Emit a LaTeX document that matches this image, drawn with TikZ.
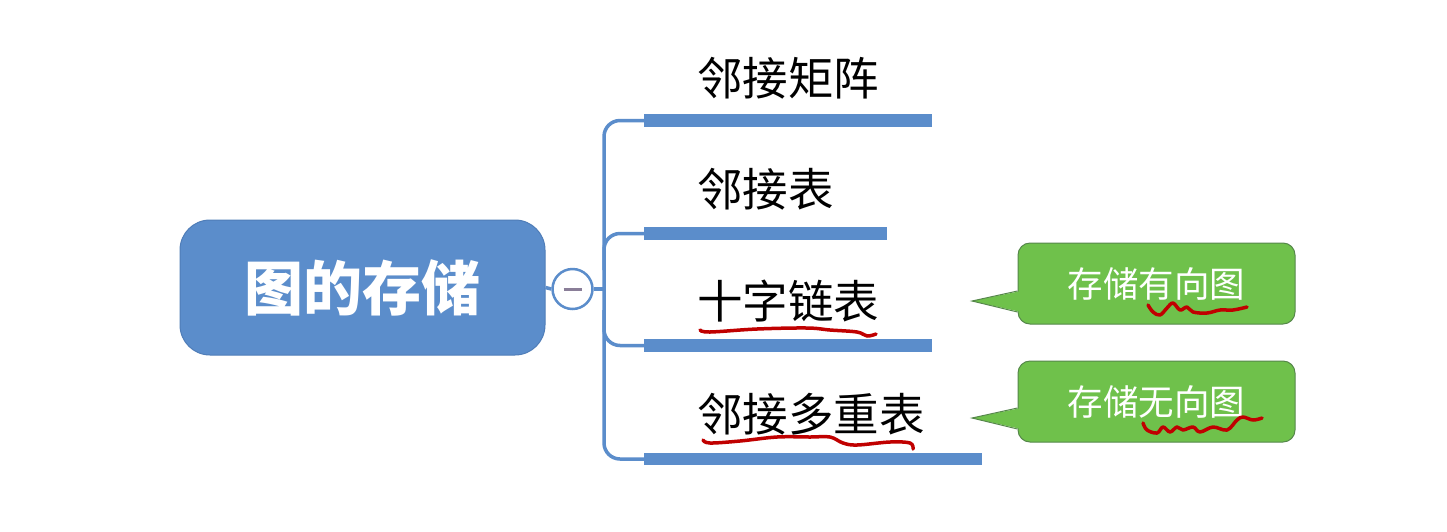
\documentclass[tikz,border=0pt]{standalone}
\usepackage{fontspec}
\newfontfamily\cjk{Noto Sans CJK SC}
\definecolor{mblue}{HTML}{5B8DCB}
\definecolor{mblueb}{HTML}{4F7DB8}
\definecolor{cgreen}{HTML}{6FC14B}
\definecolor{cgreenb}{HTML}{55874A}
\definecolor{ink}{HTML}{C00000}
\definecolor{minus}{HTML}{8A7E98}
\tikzset{
  rootbox/.style={fill=mblue, draw=mblueb, line width=1pt, rounded corners=30pt,
    minimum width=365pt, minimum height=135pt, inner sep=0pt, text=white,
    font=\cjk\bfseries\fontsize{59}{70}\selectfont},
  collapse/.style={circle, draw=mblue, line width=2.5pt, fill=white, minimum size=40pt, inner sep=0pt},
  barbox/.style={fill=mblue, minimum height=12.5pt, inner sep=0pt, anchor=west},
  branch/.style={draw=mblue, line width=3.5pt},
  lbl/.style={anchor=base west, inner sep=0pt, text=black, font=\cjk\fontsize{45.5}{55}\selectfont},
  callout/.style={fill=cgreen, draw=cgreenb, line width=1pt, rounded corners=12pt,
    minimum width=277pt, minimum height=81pt, inner sep=0pt, text=white,
    font=\cjk\fontsize{35.5}{43}\selectfont},
  scribble/.style={draw=ink, line width=3.5pt, line cap=round, line join=round}
}
\begin{document}
\begin{tikzpicture}[x=1pt,y=-1pt]
\useasboundingbox (0,0) rectangle (1447,531);
\fill[white] (0,0) rectangle (1447,531);

% root and collapse marker
\node[rootbox] (root) at (362.5,287.5) {图的存储};
\node[collapse] (col) at (572.5,289) {};
\draw[minus, line width=3pt] ([xshift=-9pt]col.center) -- ([xshift=9pt]col.center);
\coordinate (trunk) at (604,289);

% bars
\node[barbox, minimum width=288pt] (bar1) at (644,120.5) {};
\node[barbox, minimum width=243pt] (bar2) at (644,233.5) {};
\node[barbox, minimum width=288pt] (bar3) at (644,345.5) {};
\node[barbox, minimum width=338pt] (bar4) at (644,459) {};

% connectors
\draw[branch] (root.east) -- (col.west);
\draw[branch] (col.east) -- (trunk);
\draw[branch, rounded corners=16pt] (bar1.west) -| (trunk |- bar4.west) -- (bar4.west);
\draw[branch, rounded corners=16pt] (604,270) |- (bar2.west);
\draw[branch, rounded corners=16pt] (604,310) |- (bar3.west);

% labels
\node[lbl] (t1) at (697,95) {邻接矩阵};
\node[lbl] (t2) at (697,206) {邻接表};
\node[lbl] (t3) at (697,318) {十字链表};
\node[lbl] (t4) at (697,431) {邻接多重表};

% callouts
\coordinate (tip1) at (972,301);
\coordinate (tip2) at (972,418);
\node[callout] (c1) at (1156.5,283.5) {存储有向图};
\node[callout] (c2) at (1156.5,401.5) {存储无向图};
\fill[cgreen] (1021,291) -- (tip1) -- (1021,312) -- cycle;
\draw[cgreenb, line width=1pt, line join=miter] (c1.west |- 0,291) -- (tip1) -- (c1.west |- 0,312);
\fill[cgreen] (1021,408) -- (tip2) -- (1021,429) -- cycle;
\draw[cgreenb, line width=1pt, line join=miter] (c2.west |- 0,408) -- (tip2) -- (c2.west |- 0,429);

% red hand-drawn underlines
\draw[scribble] plot[smooth, tension=0.6] coordinates {(700,330) (710,332) (757,329) (807,328) (830,330) (857,332) (867,336) (876,334)};
\draw[scribble] plot[smooth, tension=0.6] coordinates {(703,440) (710,443) (740,441) (777,437) (810,437) (830,437) (843,443) (857,445) (890,442) (910,443) (913,449)};
\draw[scribble] plot[smooth, tension=0.6] coordinates {(1148,305) (1153,312) (1160,315) (1167,308) (1173,303) (1180,310) (1187,307) (1193,312) (1207,313) (1220,310) (1233,310) (1247,307)};
\draw[scribble] plot[smooth, tension=0.6] coordinates {(1143,423) (1147,430) (1157,433) (1163,427) (1170,432) (1177,427) (1183,430) (1193,427) (1200,432) (1213,427) (1227,430) (1237,420) (1243,417) (1253,420) (1262,418)};
\end{tikzpicture}
\end{document}
